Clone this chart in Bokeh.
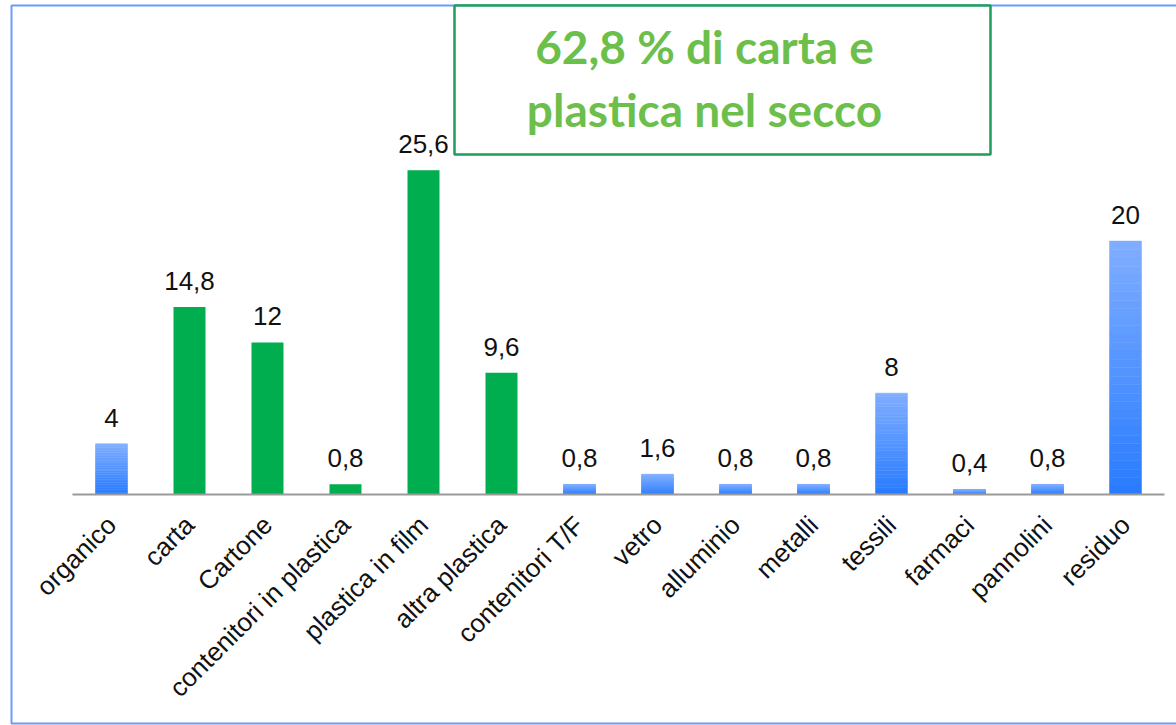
import math
from bokeh.plotting import figure
from bokeh.models import Range1d, BoxAnnotation, Label, FixedTicker, LinearAxis
from bokeh.core.properties import value
from bokeh.embed import file_html
from bokeh.resources import INLINE

# ---- data ----
categories = ["organico", "carta", "Cartone", "contenitori in plastica",
              "plastica in film", "altra plastica", "contenitori T/F", "vetro",
              "alluminio", "metalli", "tessili", "farmaci", "pannolini", "residuo"]
values = [4, 14.8, 12, 0.8, 25.6, 9.6, 0.8, 1.6, 0.8, 0.8, 8, 0.4, 0.8, 20]
value_labels = ["4", "14,8", "12", "0,8", "25,6", "9,6", "0,8", "1,6",
                "0,8", "0,8", "8", "0,4", "0,8", "20"]
is_paper_plastic = [False, True, True, True, True, True, False, False,
                    False, False, False, False, False, False]
title_lines = ["62,8 % di carta e", "plastica nel secco"]

# ---- style ----
GREEN = "#00AD4F"
BLUE_TOP = (128, 174, 255)
BLUE_BOTTOM = (40, 123, 255)
FRAME_BLUE = "#6A9CF7"
BOX_GREEN = "#1E9E5A"
TITLE_GREEN = "#6CBF4A"
N_SLICES = 30
BAR_W = 0.41

xpos = list(range(len(categories)))

p = figure(x_range=Range1d(-111 / 78, -111 / 78 + 1176 / 78),
           y_range=Range1d(-231 / 12.67, 494 / 12.67),
           width=1176, height=725, output_backend="svg", toolbar_location=None,
           min_border_left=0, min_border_right=0, min_border_top=0,
           min_border_bottom=0, x_axis_type=None, y_axis_type=None)
p.xgrid.grid_line_color = None
p.ygrid.grid_line_color = None
p.outline_line_color = None
p.background_fill_color = "white"
p.border_fill_color = "white"

ax = LinearAxis(ticker=FixedTicker(ticks=xpos),
                major_label_overrides={i: c for i, c in zip(xpos, categories)},
                fixed_location=0, bounds=(-0.5, len(categories) - 0.5))
ax.axis_line_color = "#9A9A9A"
ax.axis_line_width = 2
ax.major_tick_line_color = None
ax.minor_tick_line_color = None
ax.major_label_orientation = math.pi / 4
ax.major_label_standoff = 20
ax.major_label_text_font = "Liberation Sans"
ax.major_label_text_font_size = "26px"
ax.major_label_text_color = "#111111"
p.add_layout(ax, "below")

# outer frame
p.add_layout(BoxAnnotation(left=11, right=1200, top=5, bottom=723,
                           left_units="canvas", right_units="canvas",
                           top_units="canvas", bottom_units="canvas",
                           fill_alpha=0, line_color=FRAME_BLUE, line_alpha=1,
                           line_width=2, level="underlay"))

# green bars
g_x = [x for x, g in zip(xpos, is_paper_plastic) if g]
g_v = [v for v, g in zip(values, is_paper_plastic) if g]
p.vbar(x=g_x, top=g_v, bottom=0, width=BAR_W, fill_color=GREEN, line_color=None)

# blue bars with vertical gradient (light at top, darker at bottom)
bx, bb, bt, bc = [], [], [], []
for x, v, g in zip(xpos, values, is_paper_plastic):
    if g:
        continue
    for k in range(N_SLICES):
        f = (k + 0.5) / N_SLICES
        r = round(BLUE_BOTTOM[0] + (BLUE_TOP[0] - BLUE_BOTTOM[0]) * f)
        gg = round(BLUE_BOTTOM[1] + (BLUE_TOP[1] - BLUE_BOTTOM[1]) * f)
        b = round(BLUE_BOTTOM[2] + (BLUE_TOP[2] - BLUE_BOTTOM[2]) * f)
        bx.append(x)
        bb.append(v * k / N_SLICES)
        bt.append(v * (k + 1) / N_SLICES)
        bc.append("#%02x%02x%02x" % (r, gg, b))
p.vbar(x=bx, bottom=bb, top=bt, width=BAR_W, fill_color=bc, line_color=bc, line_width=0.5)

# value labels
p.text(x=xpos, y=values, text=value_labels, text_align="center",
       text_baseline="alphabetic", y_offset=-26,
       text_font=value("Liberation Sans"), text_font_size="26px", text_color="#111111")

# title box
p.add_layout(BoxAnnotation(left=454, right=990, top=5, bottom=154,
                           left_units="canvas", right_units="canvas",
                           top_units="canvas", bottom_units="canvas",
                           fill_color="white", fill_alpha=1,
                           line_color=BOX_GREEN, line_alpha=1, line_width=2.5,
                           level="overlay"))
for i, line in enumerate(title_lines):
    p.add_layout(Label(x=704, y=46 + 63 * i, x_units="canvas", y_units="canvas",
                       text=line, text_align="center", text_baseline="alphabetic",
                       text_font="Lato", text_font_style="bold",
                       text_font_size="46px", text_color=TITLE_GREEN, level="overlay"))

open("out.html", "w").write(file_html(p, INLINE))
